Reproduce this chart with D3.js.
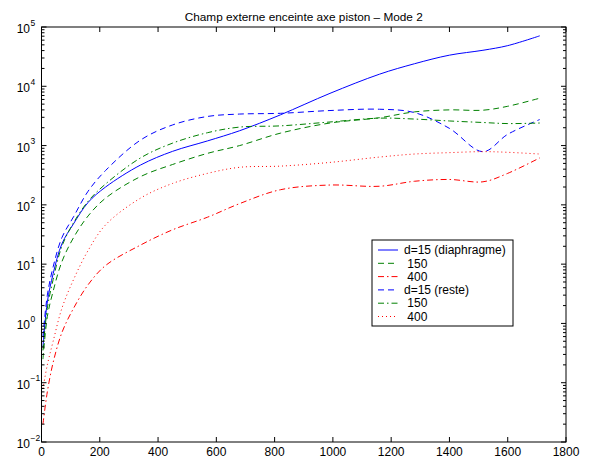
<!DOCTYPE html>
<html><head><meta charset="utf-8">
<script src="https://cdn.jsdelivr.net/npm/d3@7"></script>
<style>body{margin:0;background:#fff}svg text{font-family:"Liberation Sans",Arial,Helvetica,sans-serif}</style>
</head><body><svg id="c" width="589" height="460"></svg>
<script>
const title = "Champ externe enceinte axe piston \u2013 Mode 2";
const xs = [5, 20, 40, 70, 110, 160, 220, 340, 450, 570, 680, 820, 990, 1160, 1280, 1400, 1515, 1600, 1710];
const d15Diaph  = [0.4, 2.3, 6.9, 22, 48, 110, 200, 470, 800, 1200, 1780, 3300, 7600, 16000, 24000, 33500, 40500, 48500, 71000];
const d150Diaph = [0.25, 1.3, 3.5, 11, 28, 65, 130, 300, 480, 740, 1000, 1620, 2400, 2950, 3700, 4000, 3950, 4600, 6300];
const d400Diaph = [0.02, 0.07, 0.22, 0.7, 1.8, 4.5, 9.5, 21, 38, 62, 105, 180, 216, 206, 250, 268, 245, 340, 620];
const d15Reste  = [0.6, 3.0, 9, 28, 63, 170, 380, 1240, 2230, 3100, 3400, 3500, 3900, 4100, 3600, 1950, 790, 1550, 2750];
const d150Reste = [0.35, 1.8, 5.5, 20, 50, 115, 225, 620, 1100, 1650, 2050, 2150, 2500, 2900, 2800, 2600, 2450, 2350, 2400];
const d400Reste = [0.08, 0.2, 0.5, 1.8, 5.5, 17, 46, 130, 230, 340, 430, 450, 520, 640, 720, 760, 790, 770, 720];
const legendLabels = ["d=15 (diaphragme)", " 150", " 400", "d=15 (reste)", " 150", " 400"];
const xTicks = [0, 200, 400, 600, 800, 1000, 1200, 1400, 1600, 1800];
const yExps = [-2, -1, 0, 1, 2, 3, 4, 5];

const series = [
  {v: d15Diaph,  color: "#0000ff", dash: null},
  {v: d150Diaph, color: "#008000", dash: "6,4"},
  {v: d400Diaph, color: "#ff0000", dash: "6,3,1.5,3"},
  {v: d15Reste,  color: "#0000ff", dash: "6,4"},
  {v: d150Reste, color: "#008000", dash: "6,3,1.5,3"},
  {v: d400Reste, color: "#ff0000", dash: "1,3"}
];

const L = 41.5, R = 566, T = 27, B = 442;
const svg = d3.select("#c");
const x = d3.scaleLinear().domain([0, 1800]).range([L, R]);
const y = d3.scaleLog().domain([1e-2, 1e5]).range([B, T]);

svg.append("rect").attr("x", 0).attr("y", 0).attr("width", 589).attr("height", 460).attr("fill", "#fff");

svg.append("clipPath").attr("id", "pc").append("rect")
  .attr("x", L).attr("y", T).attr("width", R - L).attr("height", B - T);

const line = d3.line().x((d, i) => x(xs[i])).y(d => y(d)).curve(d3.curveCatmullRom.alpha(0.5));
const g = svg.append("g").attr("clip-path", "url(#pc)");
series.forEach(s => {
  g.append("path").attr("d", line(s.v)).attr("fill", "none")
    .attr("stroke", s.color).attr("stroke-width", 1)
    .attr("stroke-dasharray", s.dash);
});

const ax = svg.append("g").attr("stroke", "#000").attr("fill", "none");
ax.append("rect").attr("x", L).attr("y", T).attr("width", R - L).attr("height", B - T).attr("stroke-width", 1);
xTicks.forEach(t => {
  ax.append("line").attr("x1", x(t)).attr("x2", x(t)).attr("y1", B).attr("y2", B - 5);
  ax.append("line").attr("x1", x(t)).attr("x2", x(t)).attr("y1", T).attr("y2", T + 5);
});
yExps.forEach(e => {
  const yy = y(Math.pow(10, e));
  ax.append("line").attr("x1", L).attr("x2", L + 5).attr("y1", yy).attr("y2", yy);
  ax.append("line").attr("x1", R).attr("x2", R - 5).attr("y1", yy).attr("y2", yy);
  if (e < 5) for (let m = 2; m <= 9; m++) {
    const ym = y(m * Math.pow(10, e));
    ax.append("line").attr("x1", L).attr("x2", L + 3).attr("y1", ym).attr("y2", ym);
    ax.append("line").attr("x1", R).attr("x2", R - 3).attr("y1", ym).attr("y2", ym);
  }
});

svg.selectAll(".xl").data(xTicks).enter().append("text")
  .attr("x", d => x(d)).attr("y", 456).attr("text-anchor", "middle")
  .attr("font-size", 12).text(d => d);

yExps.forEach(e => {
  const yy = y(Math.pow(10, e));
  svg.append("text").attr("x", 30).attr("y", yy + 6).attr("text-anchor", "end")
    .attr("font-size", 12).text("10");
  svg.append("text").attr("x", 30.5).attr("y", yy - 1.5).attr("text-anchor", "start")
    .attr("font-size", 8.5).text(e < 0 ? "\u2212" + (-e) : String(e));
});

svg.append("text").attr("x", (L + R) / 2).attr("y", 21).attr("text-anchor", "middle")
  .attr("font-size", 11.8).text(title);

const lg = svg.append("g");
lg.append("rect").attr("x", 372).attr("y", 240).attr("width", 141).attr("height", 86)
  .attr("fill", "#fff").attr("stroke", "#000").attr("stroke-width", 1);
legendLabels.forEach((lab, i) => {
  const yy = 250 + i * 13.3;
  lg.append("line").attr("x1", 378).attr("x2", 398).attr("y1", yy).attr("y2", yy)
    .attr("stroke", series[i].color).attr("stroke-width", 1).attr("stroke-dasharray", series[i].dash);
  lg.append("text").attr("x", 404).attr("y", yy + 4.2).attr("font-size", 12)
    .attr("xml:space", "preserve").style("white-space", "pre").text(lab);
});
</script></body></html>
